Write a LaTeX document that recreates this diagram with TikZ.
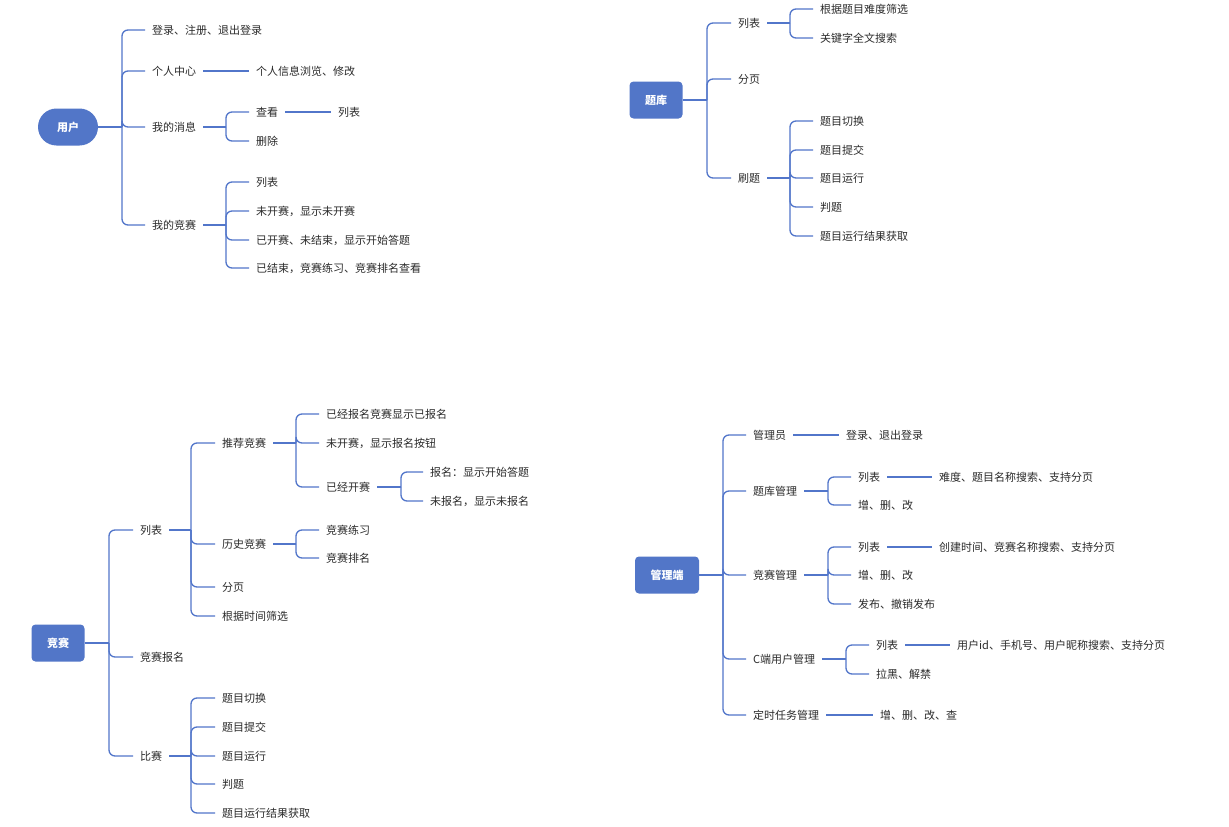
\documentclass[tikz,border=0pt]{standalone}
\usepackage{fontspec}
\setmainfont{Noto Sans CJK SC}
\begin{document}
\begin{tikzpicture}[x=1pt,y=-1pt,
  lbl/.style={anchor=west,inner xsep=7pt,inner ysep=2pt,text=txtc,font=\fontsize{11}{13}\selectfont},
  rootbox/.style={fill=rootc,text=white,font=\fontsize{11}{13}\selectfont\bfseries,rounded corners=4pt,minimum height=37pt,inner sep=0pt},
  conn/.style={draw=linec,line width=1.3pt,rounded corners=6pt}]
\definecolor{linec}{HTML}{5276CA}
\definecolor{rootc}{HTML}{5276C8}
\definecolor{txtc}{HTML}{2B2B2B}
\useasboundingbox (0,0) rectangle (1229,827);
\fill[white] (0,0) rectangle (1229,827);
\newcommand\twig[3]{\foreach \cc in {#3}{\draw[conn] (#1.east -| #2) |- (\cc.west);}\draw[conn] (#1.east) -- (#1.east -| #2);}

% ---------------- 用户 ----------------
\node[rootbox,rounded corners=18.5pt,minimum width=60pt] (u) at (68,127) {用户};
\coordinate (tu) at (122,0);
\node[lbl] (u1) at (145,30) {登录、注册、退出登录};
\node[lbl] (u2) at (145,71) {个人中心};
\node[lbl] (u3) at (145,127) {我的消息};
\node[lbl] (u4) at (145,225) {我的竞赛};
\twig{u}{tu}{u1,u2,u3,u4}
\node[lbl] (u21) at (249,71) {个人信息浏览、修改};
\draw[conn] (u2.east) -- (u21.west);
\coordinate (tu3) at (226,0);
\node[lbl] (u31) at (249,112) {查看};
\node[lbl] (u32) at (249,141) {删除};
\twig{u3}{tu3}{u31,u32}
\node[lbl] (u311) at (331,112) {列表};
\draw[conn] (u31.east) -- (u311.west);
\node[lbl] (u41) at (249,182) {列表};
\node[lbl] (u42) at (249,211) {未开赛，显示未开赛};
\node[lbl] (u43) at (249,240) {已开赛、未结束，显示开始答题};
\node[lbl] (u44) at (249,268) {已结束，竞赛练习、竞赛排名查看};
\twig{u4}{tu3}{u41,u42,u43,u44}

% ---------------- 题库 ----------------
\node[rootbox,minimum width=53pt] (q) at (656,100) {题库};
\coordinate (tq) at (707,0);
\node[lbl] (q1) at (731,23) {列表};
\node[lbl] (q2) at (731,79) {分页};
\node[lbl] (q3) at (731,178) {刷题};
\twig{q}{tq}{q1,q2,q3}
\coordinate (tq1) at (790,0);
\node[lbl] (q11) at (813,9) {根据题目难度筛选};
\node[lbl] (q12) at (813,38) {关键字全文搜索};
\twig{q1}{tq1}{q11,q12}
\node[lbl] (q31) at (813,121) {题目切换};
\node[lbl] (q32) at (813,150) {题目提交};
\node[lbl] (q33) at (813,178) {题目运行};
\node[lbl] (q34) at (813,207) {判题};
\node[lbl] (q35) at (813,236) {题目运行结果获取};
\twig{q3}{tq1}{q31,q32,q33,q34,q35}

% ---------------- 竞赛 ----------------
\node[rootbox,minimum width=53pt] (c) at (58,643) {竞赛};
\coordinate (tc) at (109,0);
\node[lbl] (c1) at (133,530) {列表};
\node[lbl] (c2) at (133,657) {竞赛报名};
\node[lbl] (c3) at (133,756) {比赛};
\twig{c}{tc}{c1,c2,c3}
\coordinate (tc1) at (191,0);
\node[lbl] (c11) at (215,443) {推荐竞赛};
\node[lbl] (c12) at (215,544) {历史竞赛};
\node[lbl] (c13) at (215,587) {分页};
\node[lbl] (c14) at (215,616) {根据时间筛选};
\twig{c1}{tc1}{c11,c12,c13,c14}
\coordinate (tc11) at (296,0);
\node[lbl] (c111) at (319,414) {已经报名竞赛显示已报名};
\node[lbl] (c112) at (319,443) {未开赛，显示报名按钮};
\node[lbl] (c113) at (319,487) {已经开赛};
\twig{c11}{tc11}{c111,c112,c113}
\coordinate (tc113) at (401,0);
\node[lbl] (c1131) at (423,472) {报名：显示开始答题};
\node[lbl] (c1132) at (423,501) {未报名，显示未报名};
\twig{c113}{tc113}{c1131,c1132}
\node[lbl] (c121) at (319,530) {竞赛练习};
\node[lbl] (c122) at (319,558) {竞赛排名};
\twig{c12}{tc11}{c121,c122}
\node[lbl] (c31) at (215,698) {题目切换};
\node[lbl] (c32) at (215,727) {题目提交};
\node[lbl] (c33) at (215,756) {题目运行};
\node[lbl] (c34) at (215,784) {判题};
\node[lbl] (c35) at (215,813) {题目运行结果获取};
\twig{c3}{tc1}{c31,c32,c33,c34,c35}

% ---------------- 管理端 ----------------
\node[rootbox,minimum width=64pt] (m) at (667,575) {管理端};
\coordinate (tm) at (723,0);
\node[lbl] (m1) at (746,435) {管理员};
\node[lbl] (m2) at (746,491) {题库管理};
\node[lbl] (m3) at (746,575) {竞赛管理};
\node[lbl] (m4) at (746,659) {C端用户管理};
\node[lbl] (m5) at (746,715) {定时任务管理};
\twig{m}{tm}{m1,m2,m3,m4,m5}
\node[lbl] (m11) at (839,435) {登录、退出登录};
\draw[conn] (m1.east) -- (m11.west);
\coordinate (tm2) at (828,0);
\node[lbl] (m21) at (851,477) {列表};
\node[lbl] (m22) at (851,505) {增、删、改};
\twig{m2}{tm2}{m21,m22}
\node[lbl] (m211) at (932,477) {难度、题目名称搜索、支持分页};
\draw[conn] (m21.east) -- (m211.west);
\node[lbl] (m31) at (851,547) {列表};
\node[lbl] (m32) at (851,575) {增、删、改};
\node[lbl] (m33) at (851,604) {发布、撤销发布};
\twig{m3}{tm2}{m31,m32,m33}
\node[lbl] (m311) at (932,547) {创建时间、竞赛名称搜索、支持分页};
\draw[conn] (m31.east) -- (m311.west);
\coordinate (tm4) at (846,0);
\node[lbl] (m41) at (869,645) {列表};
\node[lbl] (m42) at (869,674) {拉黑、解禁};
\twig{m4}{tm4}{m41,m42}
\node[lbl] (m411) at (950,645) {用户id、手机号、用户昵称搜索、支持分页};
\draw[conn] (m41.east) -- (m411.west);
\node[lbl] (m51) at (873,715) {增、删、改、查};
\draw[conn] (m5.east) -- (m51.west);
\end{tikzpicture}
\end{document}
